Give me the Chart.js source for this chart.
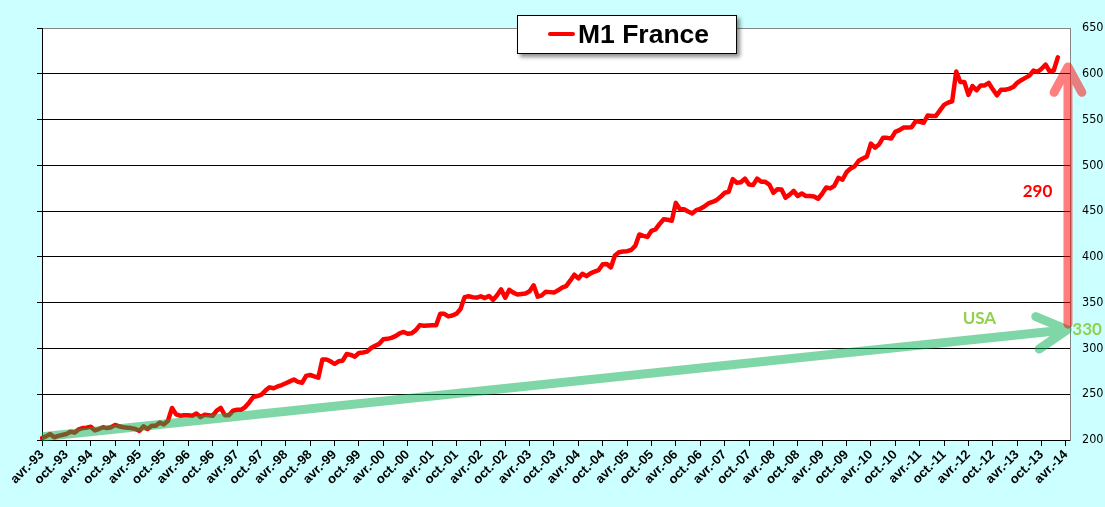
<!DOCTYPE html>
<html>
<head>
<meta charset="utf-8">
<script src="https://cdn.jsdelivr.net/npm/chart.js@4.4.1/dist/chart.umd.min.js"></script>
<style>
    html, body { margin: 0; padding: 0; background: #CCFFFF; }
    #wrap { width: 1105px; height: 507px; }
</style>
</head>
<body>
<div id="wrap"><canvas id="myChart" width="1105" height="507"></canvas></div>
<script>
const monthNames = ['janv.', 'févr.', 'mars', 'avr.', 'mai', 'juin', 'juil.', 'août', 'sept.', 'oct.', 'nov.', 'déc.'];
const firstYear = 1993;
const firstMonth = 3; // avr.
const monthCount = 254;

// M1 France, monthly, avr.-93 .. févr.-14
const m1France = [
    202, 204, 206.5, 203, 204.5, 205.5, 206.5, 209, 208,
    211.5, 213, 213.5, 214.5, 210.5, 212, 214, 213, 214, 216.5, 215, 214,
    213.5, 213, 212, 210, 215, 212, 215.5, 215.5, 219, 217, 221, 235,
    228, 226.5, 227, 227, 226.5, 229, 225, 227.5, 227, 226.5, 232, 235,
    227, 227, 232, 233, 233, 236, 241, 247, 248, 249.5, 254, 257.5,
    256.5, 258.5, 260, 262, 264, 266, 263.5, 262.5, 270, 271, 269.5, 268,
    288, 288, 286, 283, 286, 286.6, 294, 293, 291, 295, 295.5, 296.5,
    300.5, 303, 305, 310, 310.5, 311.5, 313.5, 316.5, 318, 316, 316.5, 320,
    325.5, 324.8, 325, 325.2, 325.4, 338, 337.8, 335, 336, 338, 343, 356,
    357, 356, 355.5, 357, 355, 357.3, 353, 358, 364.5, 355.5, 364, 361,
    359, 359.5, 360, 362.5, 369, 356.5, 358, 362, 361.5, 361, 363.5, 366.4,
    368, 374, 380.5, 376.5, 381.5, 379, 382, 384, 385.6, 392, 392.2, 388.5,
    401.5, 405, 405.8, 406.2, 407.5, 412, 424.5, 423, 421.8, 428.5, 430, 436,
    441, 440.5, 439.5, 459, 452, 452, 449.5, 447.5, 451, 452.5, 455, 458.4,
    460, 462, 465.6, 470, 471, 485, 481, 481.5, 485.5, 479, 478.4, 485.5,
    482, 482, 479, 470, 474, 473.6, 464.5, 468, 472, 466.5, 469.3, 466.4,
    466.4, 466, 463.5, 469, 475.8, 474.8, 477.6, 486.4, 484.3, 492.5, 496.5, 499,
    505, 507.5, 509.5, 523.8, 519.3, 522.8, 530.2, 530, 529.3, 536.5, 538.4, 541.3,
    541.3, 541.5, 548, 547.5, 546.5, 554.5, 554, 554, 560, 566, 568.5, 570,
    602.5, 591, 591, 577, 586.6, 582, 587.3, 587.3, 590, 583, 576.5, 582.5,
    582.6, 583.5, 585.5, 590, 593, 595.5, 598, 603.5, 602, 605.5, 610, 602.5,
    603.6, 618
];

const yMin = 200;
const yMax = 650;
const yStep = 50;

// annotations, in [month index, value]
const usaArrow = { from: [0, 203.6], to: [252.3, 320.5] };
const franceArrow = { from: [252.5, 326.5], to: [252.5, 607.5] };
const notes = [
    { text: '290', at: [245, 471.2], color: '#FF0000' },
    { text: 'USA', at: [230.7, 332.9], color: '#92D050' },
    { text: '330', at: [257.2, 320.9], color: '#92D050' }
];

const labels = [];
for (let i = 0; i < monthCount; i++) {
    const m = (firstMonth + i) % 12;
    const y = firstYear + Math.floor((firstMonth + i) / 12);
    labels.push(monthNames[m] + '-' + String(y).slice(2));
}

function drawArrow(ctx, x1, y1, x2, y2, color, width, headLen) {
    const ang = Math.atan2(y2 - y1, x2 - x1);
    const spread = 0.5;
    ctx.save();
    ctx.strokeStyle = color;
    ctx.lineWidth = width;
    ctx.lineCap = 'round';
    ctx.lineJoin = 'round';
    ctx.beginPath();
    ctx.moveTo(x1, y1);
    ctx.lineTo(x2, y2);
    ctx.moveTo(x2 - headLen * Math.cos(ang - spread), y2 - headLen * Math.sin(ang - spread));
    ctx.lineTo(x2, y2);
    ctx.lineTo(x2 - headLen * Math.cos(ang + spread), y2 - headLen * Math.sin(ang + spread));
    ctx.stroke();
    ctx.restore();
}

const plotBackground = {
    id: 'plotBackground',
    beforeDraw(chart) {
        const { ctx, chartArea } = chart;
        ctx.save();
        ctx.fillStyle = '#FFFFFF';
        ctx.fillRect(chartArea.left, chartArea.top, chartArea.right - chartArea.left, chartArea.bottom - chartArea.top);
        ctx.restore();
    }
};

const arrows = {
    id: 'arrows',
    afterDatasetsDraw(chart) {
        const { ctx, chartArea } = chart;
        const xs = chart.scales.x;
        const ys = chart.scales.y;
        const px = p => [xs.getPixelForValue(p[0]), ys.getPixelForValue(p[1])];

        ctx.save();
        ctx.beginPath();
        ctx.rect(chartArea.left, 0, chart.width - chartArea.left, chart.height);
        ctx.clip();
        const g1 = px(usaArrow.from), g2 = px(usaArrow.to);
        drawArrow(ctx, g1[0], g1[1], g2[0], g2[1], 'rgba(0,176,80,0.5)', 9, 34);
        ctx.restore();

        const r1 = px(franceArrow.from), r2 = px(franceArrow.to);
        drawArrow(ctx, r1[0], r1[1], r2[0], r2[1], 'rgba(255,0,0,0.5)', 9, 29);

        ctx.save();
        ctx.font = 'bold 17px Lato, "Open Sans", sans-serif';
        ctx.textAlign = 'center';
        ctx.textBaseline = 'middle';
        for (let n of notes) {
            const p = px(n.at);
            ctx.fillStyle = n.color;
            ctx.fillText(n.text, p[0], p[1]);
        }
        ctx.restore();
    }
};

const titleBox = {
    id: 'titleBox',
    afterDraw(chart) {
        const ctx = chart.ctx;
        const ds = chart.data.datasets[0];
        const bx = 517, by = 15, bw = 220, bh = 39;
        ctx.save();
        ctx.shadowColor = 'rgba(0,0,0,0.45)';
        ctx.shadowOffsetX = 3;
        ctx.shadowOffsetY = 3;
        ctx.shadowBlur = 4;
        ctx.fillStyle = '#FFFFFF';
        ctx.fillRect(bx, by, bw, bh);
        ctx.restore();

        ctx.save();
        ctx.strokeStyle = '#000000';
        ctx.lineWidth = 1;
        ctx.strokeRect(bx + 0.5, by + 0.5, bw - 1, bh - 1);
        ctx.strokeStyle = ds.borderColor;
        ctx.lineWidth = 4;
        ctx.lineCap = 'round';
        ctx.beginPath();
        ctx.moveTo(550, 34);
        ctx.lineTo(573, 34);
        ctx.stroke();
        ctx.fillStyle = '#000000';
        ctx.font = 'bold 26.5px "Liberation Sans", Arial, sans-serif';
        ctx.textBaseline = 'alphabetic';
        ctx.fillText(ds.label, 578, 43);
        ctx.restore();
    }
};

const data = {
    labels: labels,
    datasets: [{
        label: 'M1 France',
        data: m1France,
        borderColor: '#FF0000',
        borderWidth: 4.5,
        pointRadius: 0,
        tension: 0,
        fill: false,
        borderJoinStyle: 'round',
        borderCapStyle: 'round'
    }]
};

const config = {
    type: 'line',
    data: data,
    options: {
        responsive: false,
        animation: false,
        devicePixelRatio: 1,
        layout: { padding: { top: 28, left: 0, right: 0, bottom: 0 } },
        plugins: {
            legend: { display: false },
            tooltip: { enabled: false }
        },
        scales: {
            x: {
                ticks: {
                    autoSkip: false,
                    minRotation: 45,
                    maxRotation: 45,
                    padding: 1,
                    color: '#000000',
                    font: { family: '"Liberation Sans", Arial, sans-serif', size: 13, weight: 'bold' },
                    callback: function (value, index) {
                        return (index % 6 === 0 && index < monthCount - 1) ? this.getLabelForValue(value) : null;
                    }
                },
                grid: { drawOnChartArea: false, color: '#000000', tickLength: 6 },
                border: { color: '#000000', width: 1 },
                afterFit: s => { s.height = 67; }
            },
            yLeft: {
                position: 'left',
                min: yMin,
                max: yMax,
                ticks: { stepSize: yStep, display: false },
                grid: { drawOnChartArea: false, color: '#000000', tickLength: 5 },
                border: { color: '#000000', width: 1 },
                afterFit: s => { s.width = 42; }
            },
            y: {
                position: 'right',
                min: yMin,
                max: yMax,
                ticks: {
                    stepSize: yStep,
                    padding: 12,
                    color: '#000000',
                    font: { family: '"DejaVu Sans Condensed", "DejaVu Sans", sans-serif', size: 12.5 }
                },
                grid: {
                    color: ctx => ctx.tick && ctx.tick.value === yMax ? '#868686' : '#000000',
                    drawTicks: false
                },
                border: { color: '#868686', width: 1 },
                afterFit: s => { s.width = 35; }
            }
        }
    },
    plugins: [plotBackground, arrows, titleBox]
};

var myChart = new Chart(
    document.getElementById('myChart'),
    config
);
</script>
</body>
</html>
